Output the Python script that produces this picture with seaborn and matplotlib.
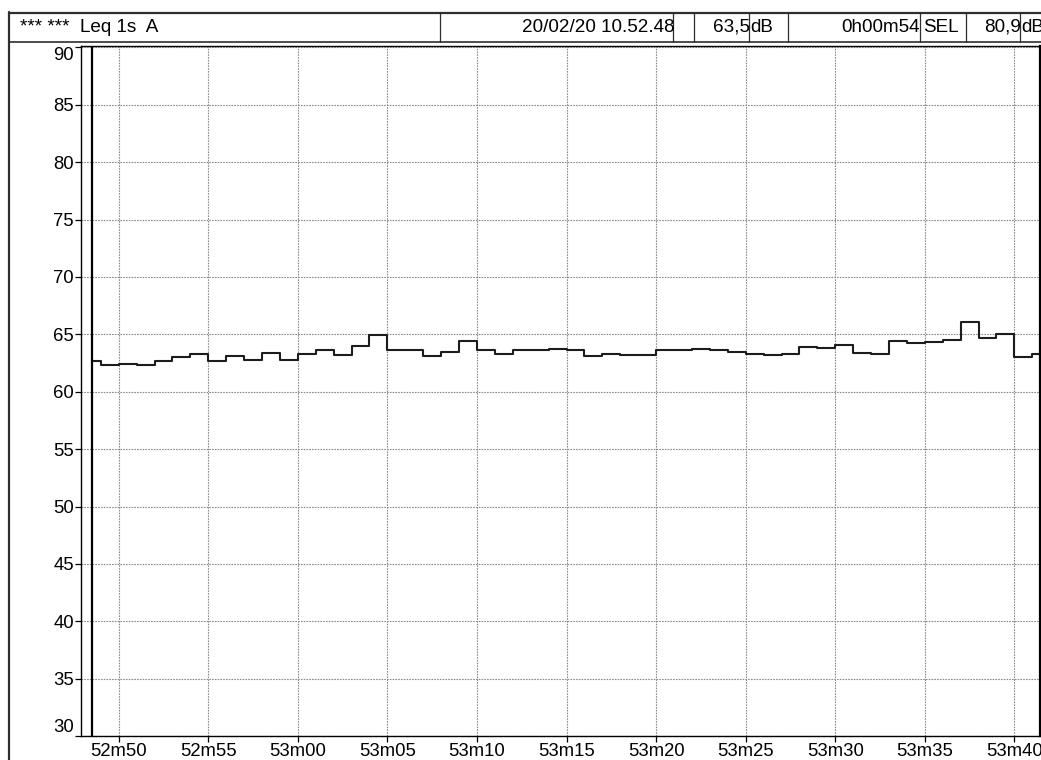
import matplotlib
matplotlib.use("Agg")
import matplotlib.pyplot as plt
import seaborn as sns
import pandas as pd
from matplotlib.lines import Line2D

# Leq 1 s (A-weighted), one value per second starting 10:52:48
second_start = list(range(48, 102))        # seconds counted from 10:52:00
leq_db = [62.7, 62.3, 62.4, 62.3, 62.7, 63.0, 63.3, 62.7, 63.1, 62.8,
          63.4, 62.8, 63.3, 63.6, 63.2, 64.0, 64.9, 63.6, 63.6, 63.1,
          63.5, 64.4, 63.6, 63.3, 63.6, 63.6, 63.7, 63.6, 63.1, 63.3,
          63.2, 63.2, 63.6, 63.6, 63.7, 63.6, 63.5, 63.3, 63.2, 63.3,
          63.9, 63.8, 64.1, 63.4, 63.3, 64.4, 64.2, 64.3, 64.5, 66.1,
          64.7, 65.0, 63.0, 63.3]
cursor_s = 48.5

x_ticks = [50, 55, 60, 65, 70, 75, 80, 85, 90, 95, 100]
x_labels = ["52m50", "52m55", "53m00", "53m05", "53m10", "53m15",
            "53m20", "53m25", "53m30", "53m35", "53m40"]
y_ticks = [30, 35, 40, 45, 50, 55, 60, 65, 70, 75, 80, 85, 90]

title_text = "*** ***  Leq 1s  A"
start_text = "20/02/20 10.52.48"
leq_text = "63,5"
dur_text = "0h00m54"
sel_text = "80,9"

sns.set_theme(style="white")
plt.rcParams["font.family"] = ["Liberation Sans", "DejaVu Sans"]

W, H = 1041, 760
fig = plt.figure(figsize=(W / 100, H / 100), dpi=100)
fig.patch.set_facecolor("white")


def fx(px):
    return px / W


def fy(py):
    return 1 - py / H


ax_l, ax_r, ax_t, ax_b = 81, 1040, 45.7, 736.1
ax = fig.add_axes([fx(ax_l), fy(ax_b), fx(ax_r - ax_l), (ax_b - ax_t) / H])

# step trace: first bin clipped at the cursor
edges = [cursor_s] + second_start[1:] + [second_start[-1] + 1]
df = pd.DataFrame({"t": edges, "leq": leq_db + [leq_db[-1]]})
sns.lineplot(data=df, x="t", y="leq", drawstyle="steps-post", estimator=None,
             color="#1c1c1c", linewidth=1.5, ax=ax)
ax.axvline(cursor_s, color="black", linewidth=1.6, zorder=5)

ax.set_xlim(47.895, 101.43)
ax.set_ylim(30, 90.14)
ax.set_xticks(x_ticks)
ax.set_xticklabels(x_labels)
ax.set_yticks(y_ticks)
ax.set_yticklabels([str(v) for v in y_ticks])
ax.set_xlabel("")
ax.set_ylabel("")
ax.grid(True, color="#8c8c8c", linestyle=(0, (1.5, 1.0)), linewidth=0.8)
ax.tick_params(axis="both", which="major", direction="out", length=4,
               width=0.9, color="black", labelsize=13.3, pad=1,
               bottom=True, left=True, labelcolor="black")
for side in ["left", "bottom", "top", "right"]:
    ax.spines[side].set_visible(True)
    ax.spines[side].set_color("black")
    ax.spines[side].set_linewidth(1.0)
ax.spines["right"].set_linewidth(1.6)

ylabels = ax.get_yticklabels()
ylabels[0].set_va("bottom")
ylabels[-1].set_va("top")

# outer panel frame
dark = "#2e2e2e"
fig.add_artist(Line2D([fx(9), fx(9)], [fy(12), fy(760)], color=dark, lw=1.6))
fig.add_artist(Line2D([fx(9), fx(1041)], [fy(12.5), fy(12.5)], color=dark, lw=1.6))
fig.add_artist(Line2D([fx(9), fx(1041)], [fy(41.5), fy(41.5)], color=dark, lw=1.2))

# header cell separators
for sx in [440, 673, 694, 749, 788, 920, 966, 1020]:
    fig.add_artist(Line2D([fx(sx), fx(sx)], [fy(12.5), fy(41.5)], color=dark, lw=0.9))

hdr_y = fy(27.5)
hdr = dict(fontsize=13.6, color="black", va="center")
fig.text(fx(20), hdr_y, title_text, ha="left", **hdr)
fig.text(fx(675), hdr_y, start_text, ha="right", **hdr)
fig.text(fx(750), hdr_y, leq_text, ha="right", **hdr)
fig.text(fx(750), hdr_y, "dB", ha="left", **hdr)
fig.text(fx(920), hdr_y, dur_text, ha="right", **hdr)
fig.text(fx(923), hdr_y, "SEL", ha="left", **hdr)
fig.text(fx(1021), hdr_y, sel_text, ha="right", **hdr)
fig.text(fx(1021), hdr_y, "dB", ha="left", **hdr)

fig.savefig("out.png", dpi=100, facecolor="white")
